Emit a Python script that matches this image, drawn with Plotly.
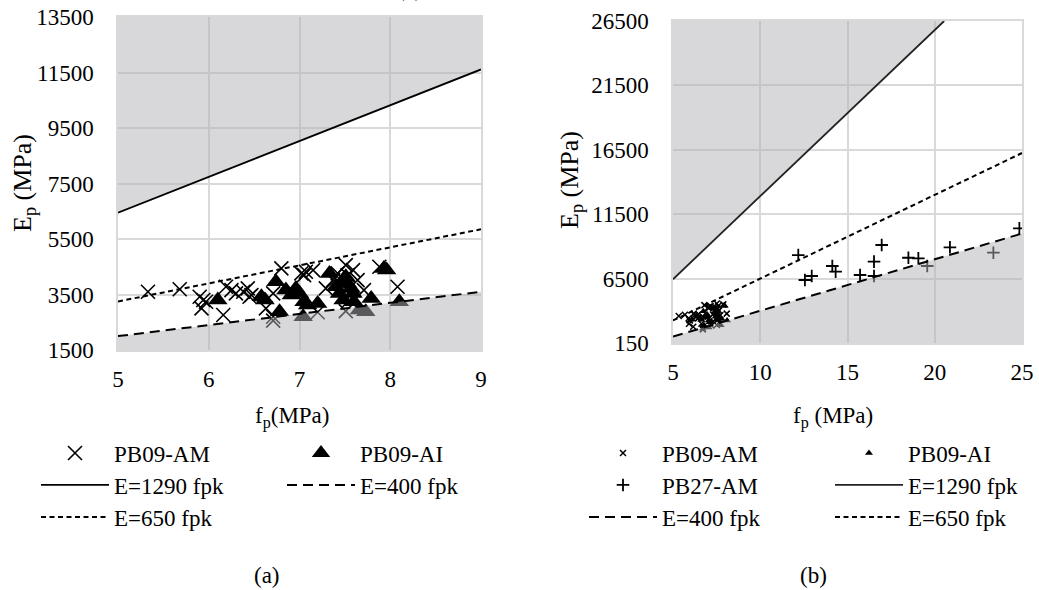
import plotly.graph_objects as go

W, H = 1039, 590
FONT = "Liberation Serif, DejaVu Serif, serif"
FS = 23

# ---------------- data ----------------
am_fp = [5.33, 5.68, 5.90, 5.94, 5.92, 5.97, 6.16, 6.19, 6.25, 6.30, 6.38, 6.43, 6.45, 6.47,
         6.63, 6.71, 6.71, 6.71, 6.80, 7.02, 7.05, 7.07, 7.15, 7.20, 7.29, 7.37, 7.42, 7.51,
         7.53, 7.59, 7.64, 7.71, 7.51, 8.08, 7.88, 7.45, 7.55]
am_E = [3600, 3690, 3420, 3300, 3000, 3240, 2760, 3780, 3660, 3540, 3600, 3720, 3420, 3480,
        3000, 2700, 2560, 3540, 4440, 4260, 4200, 4320, 4380, 2860, 3720, 4020, 4260, 4560,
        4200, 4380, 4020, 3660, 2900, 3780, 4500, 3900, 3300]

ai_fp = [6.10, 6.58, 6.62, 6.74, 6.78, 6.85, 6.91, 6.96, 7.00, 7.05, 7.04, 7.09, 7.20, 7.33,
         7.40, 7.44, 7.48, 7.51, 7.53, 7.59, 7.60, 7.66, 7.73, 7.79, 7.93, 7.96, 8.10, 7.48, 7.57]
ai_E = [3300, 3420, 3300, 3960, 2880, 3660, 3480, 3720, 3540, 3240, 2700, 3120, 3180, 4260,
        3780, 3540, 3300, 4140, 3900, 3540, 3240, 2940, 2880, 3360, 4440, 4380, 3240, 4020, 3720]

pb27_fp = [12.18, 12.56, 12.95, 14.13, 14.32, 15.72, 16.52, 16.52, 16.96, 18.49, 19.06, 19.57,
           20.87, 23.36, 24.85]
pb27_E = [8330, 6390, 6700, 7480, 7040, 6780, 7820, 6700, 9110, 8120, 8070, 7480,
          8930, 8510, 10400]

# reference lines E = k * fpk, end points
line_a_fp = [5, 9]
e1290_a = [6450, 11610]
e650_a = [3250, 5850]
e400_a = [2000, 3600]

line_b_fp = [5, 25]
e1290_b_fp = [5, 20.54]
e1290_b = [6450, 26500]
e650_b = [3250, 16250]
e400_b = [2000, 10000]

xticks_a = [5, 6, 7, 8, 9]
yticks_a = [1500, 3500, 5500, 7500, 9500, 11500, 13500]
xticks_b = [5, 10, 15, 20, 25]
yticks_b = [1500, 6500, 11500, 16500, 21500, 26500]
yticktext_b = ["150", "6500", "11500", "16500", "21500", "26500"]

# ---------------- layout helpers ----------------
def px_x(p):
    return p / W

def px_y(p):
    return 1 - p / H

SHADE = "rgba(178,176,180,0.5)"
GRID = "#d9d9d9"
DASH400 = "10px,6px"
DASH650 = "5px,3.5px"

fig = go.Figure()

# ---------- panel (a) ----------
xa, ya = "x", "y"
xr_a = [5, 9]
yr_a = [1500, 13500]

fig.add_trace(go.Scatter(x=am_fp, y=am_E, mode="markers", name="PB09-AM", xaxis=xa, yaxis=ya,
                         marker=dict(symbol="x-thin", size=14, line=dict(width=1.6, color="black"), color="black"),
                         legend="legend", legendrank=1))
fig.add_trace(go.Scatter(x=ai_fp, y=ai_E, mode="markers", name="PB09-AI", xaxis=xa, yaxis=ya,
                         marker=dict(symbol="triangle-up", size=17, color="black"),
                         legend="legend", legendrank=2))
# shaded regions (overlay)
fig.add_trace(go.Scatter(x=line_a_fp + [xr_a[1], xr_a[0]], y=e1290_a + [yr_a[1], yr_a[1]],
                         fill="toself", fillcolor=SHADE, line=dict(width=0), mode="lines",
                         xaxis=xa, yaxis=ya, showlegend=False, hoverinfo="skip"))
fig.add_trace(go.Scatter(x=line_a_fp + [xr_a[1], xr_a[0]], y=e400_a + [yr_a[0], yr_a[0]],
                         fill="toself", fillcolor=SHADE, line=dict(width=0), mode="lines",
                         xaxis=xa, yaxis=ya, showlegend=False, hoverinfo="skip"))
fig.add_trace(go.Scatter(x=line_a_fp, y=e1290_a, mode="lines", name="E=1290 fpk", xaxis=xa, yaxis=ya,
                         line=dict(color="black", width=1.8), legend="legend2", legendrank=1))
fig.add_trace(go.Scatter(x=line_a_fp, y=e400_a, mode="lines", name="E=400 fpk", xaxis=xa, yaxis=ya,
                         line=dict(color="black", width=2, dash=DASH400), legend="legend2", legendrank=2))
fig.add_trace(go.Scatter(x=line_a_fp, y=e650_a, mode="lines", name="E=650 fpk", xaxis=xa, yaxis=ya,
                         line=dict(color="black", width=2, dash=DASH650), legend="legend3", legendrank=1))

# ---------- panel (b) ----------
xb, yb = "x2", "y2"
xr_b = [5, 25]
yr_b = [1500, 26500]

fig.add_trace(go.Scatter(x=am_fp, y=am_E, mode="markers", name="PB09-AM", xaxis=xb, yaxis=yb,
                         marker=dict(symbol="x-thin", size=6, line=dict(width=1.5, color="black"), color="black"),
                         legend="legend4", legendrank=1))
fig.add_trace(go.Scatter(x=ai_fp, y=ai_E, mode="markers", name="PB09-AI", xaxis=xb, yaxis=yb,
                         marker=dict(symbol="triangle-up", size=7, color="black"),
                         legend="legend4", legendrank=2))
fig.add_trace(go.Scatter(x=pb27_fp, y=pb27_E, mode="markers", name="PB27-AM", xaxis=xb, yaxis=yb,
                         marker=dict(symbol="cross-thin", size=9, line=dict(width=1.8, color="black"), color="black"),
                         legend="legend5", legendrank=1))
fig.add_trace(go.Scatter(x=e1290_b_fp + [e1290_b_fp[0]], y=e1290_b + [yr_b[1]],
                         fill="toself", fillcolor=SHADE, line=dict(width=0), mode="lines",
                         xaxis=xb, yaxis=yb, showlegend=False, hoverinfo="skip"))
fig.add_trace(go.Scatter(x=line_b_fp + [xr_b[1], xr_b[0]], y=e400_b + [yr_b[0], yr_b[0]],
                         fill="toself", fillcolor=SHADE, line=dict(width=0), mode="lines",
                         xaxis=xb, yaxis=yb, showlegend=False, hoverinfo="skip"))
fig.add_trace(go.Scatter(x=e1290_b_fp, y=e1290_b, mode="lines", name="E=1290 fpk", xaxis=xb, yaxis=yb,
                         line=dict(color="#222222", width=1.8), legend="legend5", legendrank=2))
fig.add_trace(go.Scatter(x=line_b_fp, y=e400_b, mode="lines", name="E=400 fpk", xaxis=xb, yaxis=yb,
                         line=dict(color="black", width=2, dash=DASH400), legend="legend6", legendrank=1))
fig.add_trace(go.Scatter(x=line_b_fp, y=e650_b, mode="lines", name="E=650 fpk", xaxis=xb, yaxis=yb,
                         line=dict(color="black", width=2, dash=DASH650), legend="legend6", legendrank=2))

axis_common = dict(showgrid=True, gridcolor=GRID, gridwidth=1.5, zeroline=False,
                   showline=True, linecolor=GRID, linewidth=1.5, mirror=True,
                   ticks="outside", tickcolor="rgba(0,0,0,0)", tickformat="d",
                   tickfont=dict(family=FONT, size=FS, color="black"), fixedrange=True)

fig.update_layout(
    width=W, height=H, margin=dict(l=0, r=0, t=0, b=0, autoexpand=False),
    paper_bgcolor="white", plot_bgcolor="white",
    font=dict(family=FONT, size=FS, color="black"),
    xaxis=dict(domain=[px_x(118), px_x(481)], range=xr_a, tickvals=xticks_a, ticklen=8,
               anchor="y", **axis_common),
    yaxis=dict(domain=[px_y(350), px_y(17)], range=yr_a, tickvals=yticks_a, ticklen=18,
               anchor="x", **axis_common),
    xaxis2=dict(domain=[px_x(673), px_x(1022)], range=xr_b, tickvals=xticks_b, ticklen=8,
                anchor="y2", **axis_common),
    yaxis2=dict(domain=[px_y(343), px_y(21)], range=yr_b, tickvals=yticks_b, ticktext=yticktext_b,
                ticklen=18, anchor="x2", **axis_common),
)

def leg(xpx, ypx):
    return dict(xref="paper", yref="paper", x=px_x(xpx), y=px_y(ypx),
                xanchor="left", yanchor="middle", orientation="h",
                itemwidth=68, entrywidth=163, entrywidthmode="pixels",
                bgcolor="rgba(0,0,0,0)", borderwidth=0, tracegroupgap=0,
                font=dict(family=FONT, size=FS, color="black"))

fig.update_layout(
    legend=leg(36, 453), legend2=leg(36, 485), legend3=leg(36, 517),
    legend4=leg(584, 453), legend5=leg(584, 485), legend6=leg(584, 517),
)

ann = [
    ("E<sub>p</sub> (MPa)", 24, 183, -90, 26),
    ("E<sub>p</sub> (MPa)", 571, 180, -90, 26),
    ("f<sub>p</sub>(MPa)", 292, 417, 0, FS),
    ("f<sub>p</sub> (MPa)", 833, 417, 0, FS),
    ("(a)", 267, 575, 0, FS),
    ("(b)", 813, 575, 0, FS),
]
for text, x, y, ang, fs in ann:
    fig.add_annotation(text=text, x=px_x(x), y=px_y(y), xref="paper", yref="paper",
                       showarrow=False, textangle=ang, xanchor="center", yanchor="middle",
                       font=dict(family=FONT, size=fs, color="black"))
# clipped chart title at the very top of panel (a)
fig.add_annotation(text="(a)", x=px_x(410), y=px_y(3), xref="paper", yref="paper",
                   showarrow=False, xanchor="center", yanchor="bottom",
                   font=dict(family=FONT, size=FS, color="black"))

fig.write_html("out.html", config={"displayModeBar": False},
               post_script="document.body.style.margin='0';document.body.style.overflow='hidden';")
